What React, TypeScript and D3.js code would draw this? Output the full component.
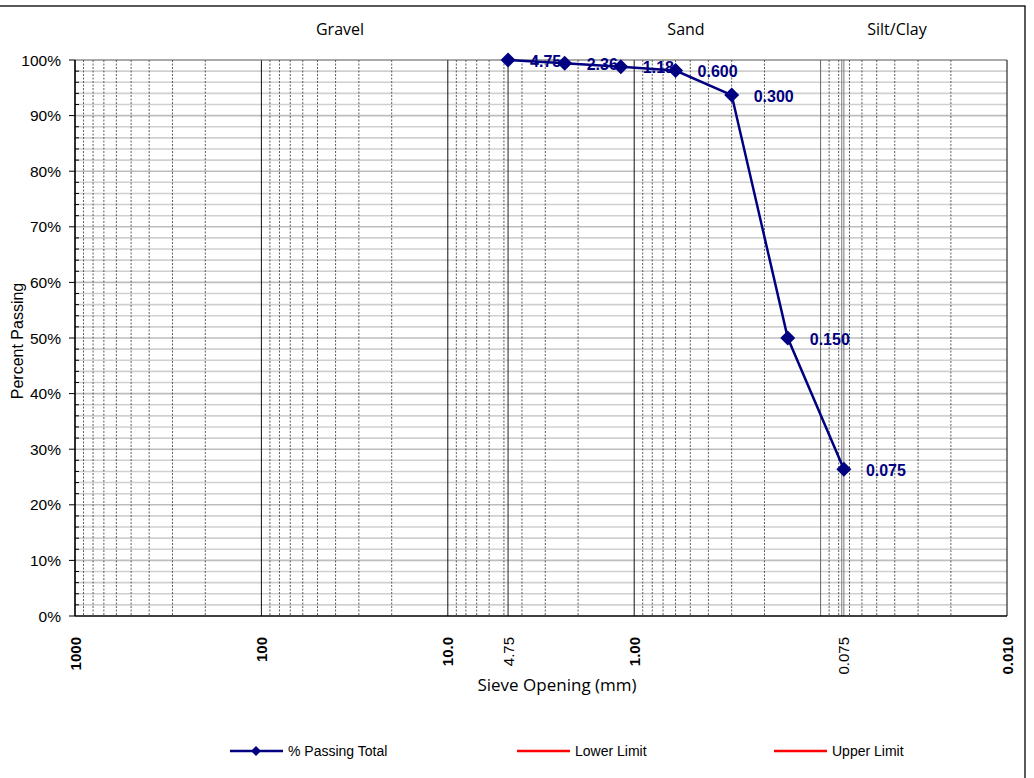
import React from "react";
import * as d3 from "d3";

const sieveSizes = [4.75, 2.36, 1.18, 0.6, 0.3, 0.15, 0.075];
const sieveLabels = ["4.75", "2.36", "1.18", "0.600", "0.300", "0.150", "0.075"];
const percentPassing = [100, 99.4, 98.8, 98.1, 93.7, 50.0, 26.4];

const xTickValues = [1000, 100, 10, 4.75, 1, 0.075, 0.01];
const xTickLabels = ["1000", "100", "10.0", "4.75", "1.00", "0.075", "0.010"];
const xTickBold = [true, true, true, false, true, false, true];

const yTicks = [0, 10, 20, 30, 40, 50, 60, 70, 80, 90, 100];
const zones = ["Gravel", "Sand", "Silt/Clay"];
const zoneX = [340, 686, 897];

const legendItems = ["% Passing Total", "Lower Limit", "Upper Limit"];

const W = 1034;
const H = 778;
const M = { left: 75, right: 1007, top: 60, bottom: 616 };

export default function App() {
  const x = d3.scaleLog().domain([1000, 0.01]).range([M.left, M.right]);
  const y = d3.scaleLinear().domain([0, 100]).range([M.bottom, M.top]);

  const decades = [1000, 100, 10, 1, 0.1];
  const minors: number[] = [];
  for (let d = 100; d >= 0.01; d /= 10) {
    for (let k = 2; k <= 9; k++) minors.push(+(d * k).toPrecision(6));
  }
  const hGrid = d3.range(2, 100, 2);
  const minorYTicks = d3.range(2, 100, 2).filter((v) => v % 10 !== 0);

  const line = d3
    .line<number>()
    .x((_, i) => x(sieveSizes[i]))
    .y((v) => y(v));

  const diamond = (cx: number, cy: number, r: number) =>
    `M${cx},${cy - r}L${cx + r},${cy}L${cx},${cy + r}L${cx - r},${cy}Z`;

  const arial = "'Liberation Sans', Arial, sans-serif";
  const geo = "'Open Sans', 'Noto Sans', sans-serif";
  const navy = "#000080";

  const legendX = [230, 517, 774];

  return (
    <svg
      width={W}
      height={H}
      style={{ position: "absolute", left: 0, top: 0, display: "block", background: "#fff" }}
    >
      <rect x={-10} y={6} width={1035} height={800} fill="#fff" stroke="#000" strokeWidth={1.3} />

      {hGrid.map((v) => (
        <line
          key={"h" + v}
          x1={M.left}
          x2={M.right}
          y1={y(v)}
          y2={y(v)}
          stroke={v % 10 === 0 ? "#bdbdbd" : "#d0d0d0"}
          strokeWidth={1.6}
        />
      ))}

      {minors
        .filter((v) => v < 1000 && v > 0.01)
        .map((v, i) => (
          <line
            key={"m" + i}
            x1={x(v)}
            x2={x(v)}
            y1={M.top}
            y2={M.bottom}
            stroke="#333"
            strokeWidth={0.8}
            strokeDasharray="2,1.5"
          />
        ))}

      {decades.map((v) => (
        <line
          key={"d" + v}
          x1={x(v)}
          x2={x(v)}
          y1={M.top}
          y2={M.bottom}
          stroke={v === 0.1 ? "#666" : "#111"}
          strokeWidth={1}
        />
      ))}
      <line x1={x(4.75)} x2={x(4.75)} y1={M.top} y2={M.bottom} stroke="#222" strokeWidth={1} />
      <line x1={x(0.077)} x2={x(0.077)} y1={M.top} y2={M.bottom} stroke="#777" strokeWidth={1} />
      <line x1={x(0.075)} x2={x(0.075)} y1={M.top} y2={M.bottom} stroke="#777" strokeWidth={1} />

      <line x1={M.left} x2={M.right} y1={M.top} y2={M.top} stroke="#555" strokeWidth={1} />
      <line x1={M.right} x2={M.right} y1={M.top} y2={M.bottom} stroke="#000" strokeWidth={1} />
      <line x1={M.left} x2={M.right} y1={M.bottom} y2={M.bottom} stroke="#000" strokeWidth={1.3} />
      <line x1={M.left} x2={M.left} y1={M.top} y2={M.bottom} stroke="#000" strokeWidth={1.3} />

      {yTicks.map((v) => (
        <g key={"y" + v}>
          <line x1={M.left - 6} x2={M.left} y1={y(v)} y2={y(v)} stroke="#000" />
          <text
            x={M.left - 14}
            y={y(v)}
            textAnchor="end"
            dominantBaseline="central"
            fontFamily={arial}
            fontSize={15.5}
            fill="#000"
          >
            {v}%
          </text>
        </g>
      ))}
      {minorYTicks.map((v) => (
        <line key={"ym" + v} x1={M.left} x2={M.left + 4} y1={y(v)} y2={y(v)} stroke="#000" />
      ))}

      <text
        transform={`translate(23,${(M.top + M.bottom) / 2 + 3}) rotate(-90)`}
        textAnchor="middle"
        fontFamily={arial}
        fontSize={16}
        fill="#000"
      >
        Percent Passing
      </text>

      {xTickValues.map((v, i) => (
        <text
          key={"xl" + i}
          transform={`translate(${x(v)},637) rotate(-90)`}
          textAnchor="end"
          dominantBaseline="central"
          fontFamily={arial}
          fontSize={15}
          fontWeight={xTickBold[i] ? "bold" : "normal"}
          fill="#000"
        >
          {xTickLabels[i]}
        </text>
      ))}

      <text x={557} y={691} textAnchor="middle" fontFamily={geo} fontSize={17} fill="#000">
        Sieve Opening (mm)
      </text>

      {zones.map((z, i) => (
        <text key={z} x={zoneX[i]} y={35} textAnchor="middle" fontFamily={geo} fontSize={16} fill="#000">
          {z}
        </text>
      ))}

      <path d={line(percentPassing) || ""} fill="none" stroke={navy} strokeWidth={2.5} />
      {percentPassing.map((v, i) => (
        <path key={"pt" + i} d={diamond(x(sieveSizes[i]), y(v), 7.5)} fill={navy} />
      ))}
      {percentPassing.map((v, i) => (
        <text
          key={"lb" + i}
          x={x(sieveSizes[i]) + 22}
          y={y(v) + 1}
          dominantBaseline="central"
          fontFamily={arial}
          fontSize={16}
          fontWeight="bold"
          fill={navy}
        >
          {sieveLabels[i]}
        </text>
      ))}

      {legendItems.map((t, i) => {
        const lx = legendX[i];
        const col = i === 0 ? navy : "#ff0000";
        return (
          <g key={t}>
            <line x1={lx} x2={lx + 53} y1={751} y2={751} stroke={col} strokeWidth={2.5} />
            {i === 0 && <path d={diamond(lx + 26, 751, 5)} fill={navy} />}
            <text
              x={lx + 58}
              y={751}
              dominantBaseline="central"
              fontFamily={arial}
              fontSize={14}
              fill="#000"
            >
              {t}
            </text>
          </g>
        );
      })}
    </svg>
  );
}
